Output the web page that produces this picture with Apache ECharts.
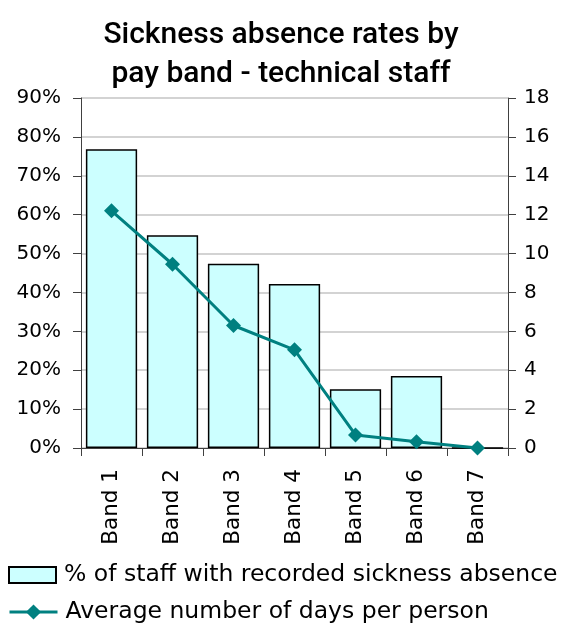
<!DOCTYPE html>
<html><head><meta charset="utf-8">
<script src="https://cdn.jsdelivr.net/npm/echarts@6/dist/echarts.min.js"></script>
<style>html,body{margin:0;padding:0;background:#fff}#c{width:563px;height:626px}</style>
</head><body><div id="c"></div>
<script>
var categories = ['Band 1','Band 2','Band 3','Band 4','Band 5','Band 6','Band 7'];
var pctStaff = [76.8, 54.7, 47.4, 42.2, 15.1, 18.5, 0];
var avgDays = [12.2, 9.45, 6.3, 5.05, 0.67, 0.32, 0];
var pctTicks = {min:0, max:90, interval:10};
var dayTicks = {min:0, max:18, interval:2};
var titleText = 'Sickness absence rates by\npay band - technical staff';
var seriesNames = ['% of staff with recorded sickness absence','Average number of days per person'];

var FONT = 'DejaVu Sans';
var legendText = {fontFamily:FONT, fontSize:23.5, color:'#000', lineHeight:26, padding:[0,0,0,3]};
var chart = echarts.init(document.getElementById('c'), null, {renderer:'canvas'});
chart.setOption({
  animation:false,
  title:{text:titleText, left:276, textAlign:'center', top:11,
    textStyle:{fontFamily:'Roboto', fontSize:30, fontWeight:500, color:'#000', lineHeight:39}},
  grid:{left:81, right:55, top:98, bottom:178, containLabel:false},
  legend:[
    {orient:'vertical', left:8, top:562, padding:0, itemWidth:47, itemHeight:16,
      textStyle:legendText, data:[{name:seriesNames[0], icon:'rect'}]},
    {orient:'vertical', left:8, top:599, padding:0, itemWidth:48, itemHeight:19,
      lineStyle:{width:3}, textStyle:legendText, data:[{name:seriesNames[1]}]}
  ],
  xAxis:{type:'category', data:categories,
    axisLine:{lineStyle:{color:'#404040', width:1}},
    axisTick:{show:true, alignWithLabel:false, length:8, lineStyle:{color:'#404040'}},
    axisLabel:{rotate:90, fontFamily:FONT, fontSize:21.5, color:'#000', margin:21}},
  yAxis:[
    {type:'value', min:pctTicks.min, max:pctTicks.max, interval:pctTicks.interval,
      axisLine:{show:true, lineStyle:{color:'#404040'}},
      axisTick:{show:true, length:8, lineStyle:{color:'#404040'}},
      axisLabel:{formatter:'{value}%', fontFamily:FONT, fontSize:20, color:'#000', margin:20},
      splitLine:{show:true, lineStyle:{color:'#c4c4c4', width:1.5}}},
    {type:'value', min:dayTicks.min, max:dayTicks.max, interval:dayTicks.interval, position:'right',
      axisLine:{show:true, lineStyle:{color:'#404040'}},
      axisTick:{show:true, length:8, lineStyle:{color:'#404040'}},
      axisLabel:{fontFamily:FONT, fontSize:20, color:'#000', margin:16},
      splitLine:{show:false}}
  ],
  series:[
    {name:seriesNames[0], type:'bar', yAxisIndex:0, data:pctStaff, barCategoryGap:'16%',
      itemStyle:{color:'#CCFFFF', borderColor:'#000', borderWidth:1.5}},
    {name:seriesNames[1], type:'line', yAxisIndex:1, data:avgDays, symbol:'diamond', symbolSize:15,
      lineStyle:{color:'#008080', width:3}, itemStyle:{color:'#008080'}}
  ]
});
</script></body></html>
